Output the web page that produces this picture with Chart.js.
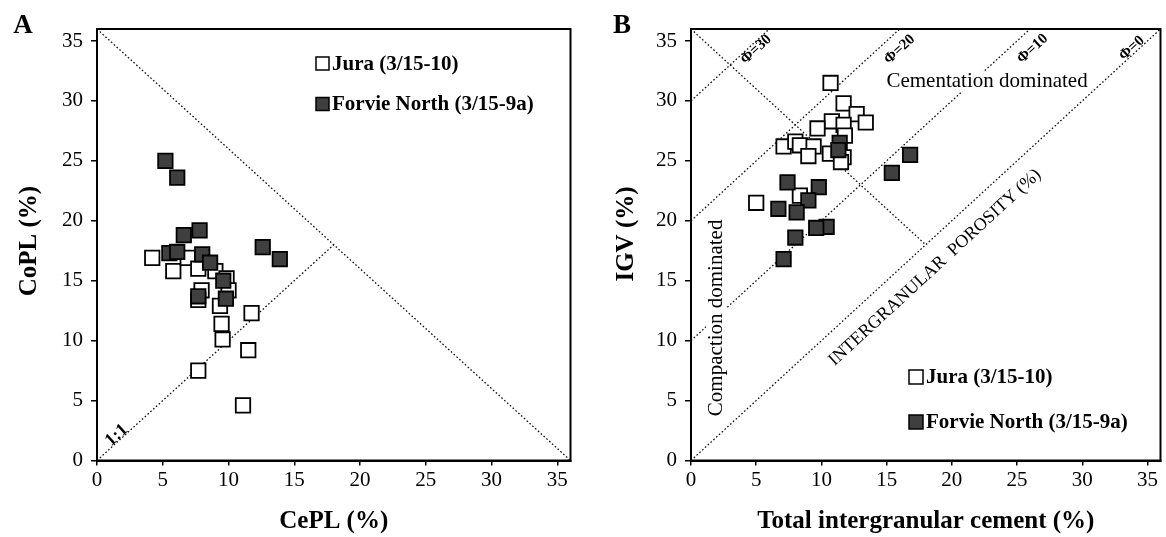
<!DOCTYPE html>
<html><head><meta charset="utf-8">
<script src="https://cdn.jsdelivr.net/npm/chart.js@4.4.1/dist/chart.umd.min.js"></script>
<style>
html,body{margin:0;padding:0;background:#fff;}
#wrap{position:relative;width:1166px;height:537px;}
canvas{position:absolute;top:0;}
#ca{left:0;} #cb{left:583px;}
</style></head><body>
<div id="wrap"><canvas id="ca" width="583" height="537"></canvas><canvas id="cb" width="583" height="537"></canvas></div>
<script>
// ---------- data ----------
const axisTicks = [0, 5, 10, 15, 20, 25, 30, 35];

// Panel A: CePL vs CoPL
const juraCePL   = [4.2, 5.8, 6.9, 7.7, 9.0, 9.85, 10.0, 7.95, 7.7, 9.35, 11.75, 9.47, 9.55, 11.5, 7.7, 11.1];
const juraCoPL   = [16.9, 15.8, 16.9, 16.0, 15.8, 15.2, 14.2, 14.2, 13.4, 12.9, 12.3, 11.4, 10.1, 9.2, 7.5, 4.6];
const forvieCePL = [5.2, 6.1, 7.8, 6.6, 5.5, 6.1, 8.0, 8.6, 12.6, 13.9, 9.6, 9.8, 7.7];
const forvieCoPL = [25.0, 23.6, 19.2, 18.8, 17.3, 17.4, 17.2, 16.5, 17.8, 16.8, 15.0, 13.5, 13.7];

// Panel B: total intergranular cement vs IGV
const juraCement   = [10.7, 11.7, 12.7, 13.4, 10.8, 11.7, 9.7, 7.1, 8.0, 8.35, 9.4, 9.0, 10.65, 11.7, 11.5, 5.0, 8.35, 11.8];
const juraIGV      = [31.5, 29.8, 28.9, 28.2, 28.3, 28.0, 27.7, 26.2, 26.6, 26.3, 26.2, 25.4, 25.6, 25.3, 24.9, 21.5, 22.1, 27.1];
const forvieCement = [11.4, 11.3, 16.8, 15.4, 7.4, 9.8, 9.0, 6.7, 8.1, 10.4, 9.6, 8.0, 7.1];
const forvieIGV    = [26.5, 25.9, 25.5, 24.0, 23.2, 22.8, 21.7, 21.0, 20.7, 19.5, 19.4, 18.6, 16.8];

// Reference lines
const diagAx = [0, 36],  diagAy = [36, 0];     // panel A: CePL + CoPL = 36
const oneToOneX = [0, 18], oneToOneY = [0, 18]; // panel A 1:1
const diagBx = [0, 18],  diagBy = [36, 18];     // panel B
const phi30x = [0, 6],  phi30y = [30, 36];
const phi20x = [0, 16], phi20y = [20, 36];
const phi10x = [0, 26], phi10y = [10, 36];
const phi0x  = [0, 36], phi0y  = [0, 36];

const legendJura = 'Jura (3/15-10)';
const legendForvie = 'Forvie North (3/15-9a)';

// ---------- helpers ----------
const SERIF = "'Liberation Serif', 'Times New Roman', serif";
const pts = (xs, ys) => xs.map((v, i) => ({x: v, y: ys[i]}));
const DARK = '#3f3f3f';

function pointSet(label, xs, ys, fill, order) {
  return {label, data: pts(xs, ys), pointStyle: 'rect', pointRadius: 10.2, pointHoverRadius: 10.2,
    backgroundColor: fill, borderColor: '#000', borderWidth: 1.8, showLine: false, order};
}
function refLine(xs, ys) {
  return {label: '', data: pts(xs, ys), showLine: true, borderColor: '#111', borderWidth: 1.3,
    borderDash: [1.6, 2.2], pointRadius: 0, pointHoverRadius: 0, fill: false, order: 5};
}

const decor = {
  id: 'decor',
  afterDatasetsDraw(chart, args, opts) {
    const {ctx, chartArea: a, scales: {x, y}} = chart;
    ctx.save();
    ctx.strokeStyle = '#000'; ctx.lineWidth = 2;
    ctx.strokeRect(a.left, a.top, a.right - a.left, a.bottom - a.top);
    (opts.texts || []).forEach(t => {
      ctx.save();
      ctx.translate(x.getPixelForValue(t.x), y.getPixelForValue(t.y));
      ctx.rotate(t.rot * Math.PI / 180);
      ctx.font = t.font;
      ctx.textAlign = 'center'; ctx.textBaseline = 'middle';
      if (t.bg) {
        const w = ctx.measureText(t.text).width;
        ctx.fillStyle = '#fff'; ctx.fillRect(-w / 2 - 3, -t.bg / 2, w + 6, t.bg);
      }
      ctx.fillStyle = '#000'; ctx.fillText(t.text, 0, 0);
      ctx.restore();
    });
    (opts.legend || []).forEach(l => {
      const ds = chart.data.datasets[l.ds];
      ctx.fillStyle = ds.backgroundColor; ctx.strokeStyle = '#000'; ctx.lineWidth = 1.5;
      ctx.fillRect(l.x, l.y - l.s / 2, l.s, l.s);
      ctx.strokeRect(l.x, l.y - l.s / 2, l.s, l.s);
      ctx.font = 'bold 21px ' + SERIF; ctx.textAlign = 'left'; ctx.textBaseline = 'middle';
      ctx.fillStyle = '#000';
      ctx.fillText(ds.label, l.x + l.s + 3, l.y + 1);
    });
    if (opts.yTitle) {
      ctx.save();
      ctx.translate(opts.yTitle.x, opts.yTitle.y);
      ctx.rotate(-Math.PI / 2);
      ctx.font = 'bold 25px ' + SERIF; ctx.textAlign = 'center'; ctx.textBaseline = 'middle';
      ctx.fillStyle = '#000';
      ctx.fillText(opts.yTitle.text, 0, 0);
      ctx.restore();
    }
    if (opts.letter) {
      ctx.font = 'bold 27px ' + SERIF; ctx.textAlign = 'center'; ctx.textBaseline = 'middle';
      ctx.fillStyle = '#000';
      ctx.fillText(opts.letter.text, opts.letter.x, opts.letter.y);
    }
    ctx.restore();
  }
};

function makeOptions(cfg) {
  return {
    responsive: false, animation: false, events: [],
    layout: {autoPadding: false, padding: {top: 29, right: cfg.padRight, bottom: 0, left: 0}},
    plugins: {legend: {display: false}, tooltip: {enabled: false}, decor: cfg.decor},
    scales: {
      x: {type: 'linear', min: 0, max: 36,
        afterBuildTicks: s => { s.ticks = axisTicks.map(v => ({value: v})); },
        afterFit: s => { s.height = 76.5; s.paddingLeft = 0; s.paddingRight = 0; },
        ticks: {color: '#000', font: {family: SERIF, size: 21}, padding: 2, maxRotation: 0, autoSkip: false},
        grid: {drawOnChartArea: false, drawTicks: true, tickLength: 5, color: '#000', lineWidth: 1.5},
        border: {display: true, color: '#000', width: 2},
        title: {display: true, text: cfg.xTitle, color: '#000',
          font: {family: SERIF, size: 25, weight: 'bold'}, padding: {top: 0, bottom: 0.5}}},
      y: {type: 'linear', min: 0, max: 36,
        afterBuildTicks: s => { s.ticks = axisTicks.map(v => ({value: v})); },
        afterFit: s => { s.width = cfg.yWidth; s.paddingTop = 0; s.paddingBottom = 0; },
        ticks: {color: '#000', font: {family: SERIF, size: 21}, padding: 8, autoSkip: false},
        grid: {drawOnChartArea: false, drawTicks: true, tickLength: 6, color: '#000', lineWidth: 1.5},
        border: {display: true, color: '#000', width: 2},
        title: {display: false}}
    }
  };
}

// ---------- Panel A ----------
new Chart(document.getElementById('ca'), {
  type: 'scatter',
  data: {datasets: [
    pointSet(legendJura, juraCePL, juraCoPL, '#fff', 2),
    pointSet(legendForvie, forvieCePL, forvieCoPL, DARK, 1),
    refLine(diagAx, diagAy),
    refLine(oneToOneX, oneToOneY)
  ]},
  options: makeOptions({
    padRight: 12.5, yWidth: 97, xTitle: 'CePL (%)',
    decor: {
      texts: [{text: '1:1', x: 1.5, y: 2.1, rot: -42.3, font: 'bold 18px ' + SERIF}],
      legend: [{ds: 0, x: 316, y: 63.5, s: 13}, {ds: 1, x: 316, y: 104, s: 13}],
      yTitle: {text: 'CoPL (%)', x: 30, y: 241},
      letter: {text: 'A', x: 23, y: 26}
    }
  }),
  plugins: [decor]
});

// ---------- Panel B ----------
new Chart(document.getElementById('cb'), {
  type: 'scatter',
  data: {datasets: [
    pointSet(legendJura, juraCement, juraIGV, '#fff', 2),
    pointSet(legendForvie, forvieCement, forvieIGV, DARK, 1),
    refLine(diagBx, diagBy),
    refLine(phi30x, phi30y), refLine(phi20x, phi20y), refLine(phi10x, phi10y), refLine(phi0x, phi0y)
  ]},
  options: makeOptions({
    padRight: 5.5, yWidth: 108, xTitle: 'Total intergranular cement (%)',
    decor: {
      texts: [
        {text: 'Cementation dominated', x: 22.7, y: 31.6, rot: 0, font: '21px ' + SERIF, bg: 20},
        {text: 'Compaction dominated', x: 1.92, y: 11.9, rot: -90, font: '21px ' + SERIF, bg: 20},
        {text: 'INTERGRANULAR  POROSITY (%)', x: 18.7, y: 16.1, rot: -42.6, font: '18px ' + SERIF},
        {text: 'Φ=30', x: 5.0, y: 34.3, rot: -42.6, font: 'bold 15px ' + SERIF},
        {text: 'Φ=20', x: 16.0, y: 34.3, rot: -42.6, font: 'bold 15px ' + SERIF},
        {text: 'Φ=10', x: 26.2, y: 34.35, rot: -42.6, font: 'bold 15px ' + SERIF},
        {text: 'Φ=0', x: 33.8, y: 34.4, rot: -42.6, font: 'bold 15px ' + SERIF}
      ],
      legend: [{ds: 0, x: 326, y: 377, s: 14}, {ds: 1, x: 326, y: 422, s: 14}],
      yTitle: {text: 'IGV (%)', x: 44, y: 234},
      letter: {text: 'B', x: 39, y: 26}
    }
  }),
  plugins: [decor]
});
</script>
</body></html>
